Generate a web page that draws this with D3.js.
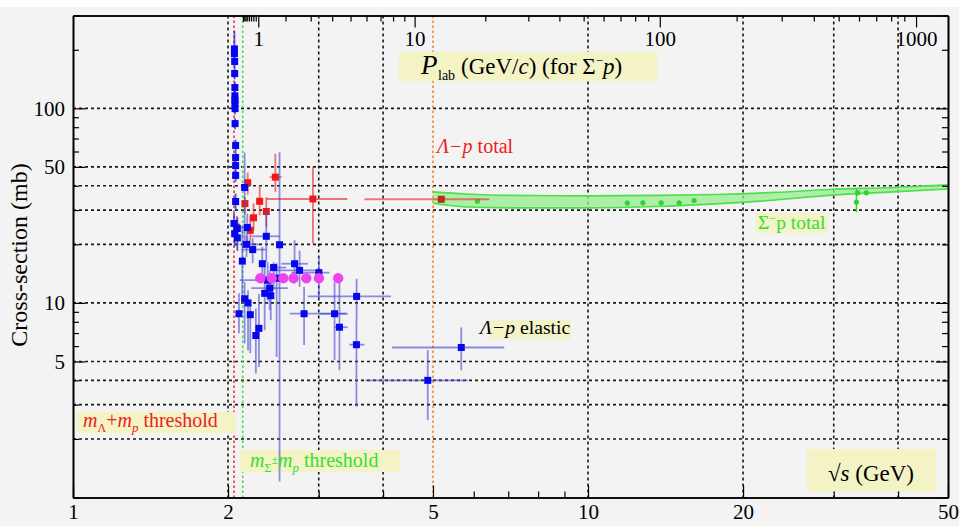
<!DOCTYPE html>
<html><head><meta charset="utf-8">
<script src="https://cdn.jsdelivr.net/npm/d3@7"></script>
<style>body{margin:0;background:#fff;} svg{display:block;} svg text{font-family:'Liberation Serif','Times New Roman',Tinos,'DejaVu Serif',serif;}</style>
</head><body><svg id="c" width="959" height="526" font-family="Liberation Serif, serif"></svg>
<script>
// ---------- data ----------
const bottomTickLabels = [1, 2, 5, 10, 20, 50];
const leftTickLabels = [5, 10, 50, 100];
const plabTickLabels = [1, 10, 100, 1000];
const plabMinorTicks = [0.1,0.2,0.3,0.4,0.5,0.6,0.7,0.8,0.9,2,3,4,5,6,7,8,9,20,30,40,50,60,70,80,90,200,300,400,500,600,700,800,900];
const gridXValues = [2, 3, 4, 10, 20, 30, 40];
const gridYValues = [2, 3, 4, 5, 10, 20, 30, 40, 50, 100];
const massLambda = 1.115683, massSigmaMinus = 1.197449, massProton = 0.938272;
const lambdaPTotalEdge = 5;

// Λp elastic near threshold: [sqrt s, sigma, sigmaLo, sigmaHi]
const elasticNearThreshold = [
  [2.058,202,188,250],[2.058,191,178,205],[2.060,174,162,187],[2.060,151,141,162],
  [2.062,128,119,137],[2.062,116,108,124],[2.063,110,103,118],[2.063,106,99,113],
  [2.064,99.7,93,107],[2.064,83.5,78,89],[2.069,64.4,60,69],[2.069,55.9,52,60],
  [2.069,50.8,47,54],[2.069,45.2,42,48],[2.069,33.2,30,36.5],[2.054,25.6,22,29],
  [2.085,24.1,21,27.5],[2.060,22.7,19.5,26],[2.085,21.6,18.5,25]
];
// Λp elastic: [sqrt s, sigma, sqrtsLo, sqrtsHi, sigmaLo, sigmaHi]
const elasticPoints = [
  [2.154,39.2,2.154,2.154,21.0,59.3],[2.180,24.4,2.123,2.220,19.4,28.8],
  [2.172,20.0,2.107,2.304,17.2,22.2],[2.373,22.0,2.220,2.518,16.2,29.9],
  [2.518,19.9,2.518,2.518,1.21,59.5],[2.233,18.8,2.123,2.366,16.0,21.5],
  [2.132,16.4,2.132,2.132,10.7,25.0],[2.331,15.9,2.331,2.331,12.6,19.4],
  [2.452,15.2,2.409,2.595,11.6,16.2],[2.693,15.9,2.538,2.858,12.6,21.0],
  [2.754,14.7,2.427,3.011,12.1,18.6],[3.002,14.3,2.654,3.148,10.5,17.2],
  [2.387,13.1,2.107,2.595,10.3,16.2],[2.485,13.4,2.485,2.485,5.28,16.0],
  [2.409,11.9,2.220,2.614,9.2,14.7],[2.356,11.2,2.356,2.356,7.24,15.6],
  [2.421,10.9,2.421,2.421,8.15,13.9],[2.154,10.5,2.154,2.154,6.19,12.8],
  [2.187,10.0,2.187,2.187,5.72,11.6],[2.100,8.8,2.100,2.100,6.99,11.2],
  [2.209,8.7,2.209,2.209,5.52,9.73],[2.296,7.4,2.296,2.296,4.69,11.1],
  [2.265,6.8,2.265,2.265,4.34,9.36],[2.810,8.8,2.634,3.392,6.07,12.1],
  [3.220,8.8,3.011,3.416,5.08,12.8],[3.291,7.5,3.220,3.416,4.51,13.6],
  [3.554,10.8,2.858,4.146,8.15,13.3],[3.551,6.1,3.442,3.681,2.93,8.15],
  [4.885,4.0,3.697,5.84,2.5,5.72],[5.674,5.9,4.165,6.875,4.51,7.48]
];
// Λp total: [sqrt s, sigma, sqrtsLo, sqrtsHi, sigmaLo, sigmaHi]
const lambdaPTotal = [
  [2.184,41.5,2.184,2.184,36.0,46.8],[2.157,32.4,2.157,2.157,28.7,35.0],
  [2.304,33.3,2.280,2.330,28.2,40.2],[2.242,27.4,2.242,2.242,23.6,32.5],
  [2.373,29.5,2.373,2.373,24.5,35.0],[2.471,44.3,2.409,2.541,37.1,58.4],
  [2.209,23.6,2.209,2.209,19.8,28.2],[2.923,34.2,2.377,3.41,20.2,49.9],
  [2.079,24.5,2.079,2.079,21.5,28.0]
];
const lambdaPTotalHigh = [[5.19,34.1,3.68,6.43,33.6,34.6]];
// magenta series
const magentaSqrtS = [2.311,2.431,2.561,2.681,2.838,3.002,3.273];
const magentaSigma = [13.4,13.4,13.4,13.4,13.4,13.4,13.4];
const magentaErr = [0,0,0,0,0.5,0.6,0.6];
// Σ⁻p total band and points
const bandSqrtS = [5,5.8,7,10,13.6,17.7,23.1,29.3,39,50];
const bandUpper = [37.2,36.3,35.7,35.5,35.7,36.1,37.0,38.3,39.2,40.4];
const bandLower = [32.5,31.1,30.8,30.8,31.3,32.3,33.8,35.7,37.2,38.5];
const sigmaPPoints = [[6.10,33.3,33.3,33.3],[11.92,32.6,32.6,32.6],[12.78,32.7,32.7,32.7],[13.87,32.7,32.7,32.7],[15.03,32.7,32.7,32.7],[16.07,33.6,33.6,33.6],[33.2,33.0,29.2,38.8],[33.4,36.8,36.8,36.8],[34.7,36.8,36.8,36.8]];

// ---------- layout ----------
const FONT = "'Liberation Serif','Times New Roman',Tinos,'DejaVu Serif',serif";
const W = 959, H = 526;
const L = 73, R = 948, T = 15.5, B = 497.5;
const svg = d3.select("#c");
const x = d3.scaleLog().domain([1, 50]).range([L, R]);
const y = d3.scaleLog().domain([1, 300]).range([B, T]);
const sqrtSFromPlab = p => { const E = Math.sqrt(p*p + massSigmaMinus**2); return Math.sqrt(massSigmaMinus**2 + massProton**2 + 2*massProton*E); };

svg.append("rect").attr("x",0).attr("y",0).attr("width",W).attr("height",H).attr("fill","#ffffff");
svg.append("rect").attr("x",0).attr("y",7).attr("width",W).attr("height",H-7).attr("fill","#f3f3f3");

// grid
const grid = svg.append("g").attr("stroke","#1a1a1a").attr("stroke-width",1.6).attr("stroke-dasharray","3,3");
grid.selectAll(".gx").data(gridXValues).join("line").attr("x1",d=>x(d)).attr("x2",d=>x(d)).attr("y1",T).attr("y2",B);
grid.selectAll(".gy").data(gridYValues).join("line").attr("x1",L).attr("x2",R).attr("y1",d=>y(d)).attr("y2",d=>y(d));

// special vertical lines
const vlines = [
  {v: massLambda + massProton, c: "#e03a3a"},
  {v: massSigmaMinus + massProton, c: "#44e044"},
  {v: lambdaPTotalEdge, c: "#ee8a30"}
];
svg.selectAll(".vl").data(vlines).join("line").attr("x1",d=>x(d.v)).attr("x2",d=>x(d.v)).attr("y1",T).attr("y2",B)
  .attr("stroke",d=>d.c).attr("stroke-width",1.6).attr("stroke-dasharray","2.5,2.5");

// label boxes
const boxFill = "#f3f3c6";
const boxes = [
  [399,52,258,29],[756,213,72,20],[489,320,82,19],[77,412,159,21],[240,450,160,22],[807,449,129,43]
];
svg.selectAll(".bx").data(boxes).join("rect").attr("x",d=>d[0]).attr("y",d=>d[1]).attr("width",d=>d[2]).attr("height",d=>d[3]).attr("fill",boxFill);

// Σ⁻p band
const bandData = bandSqrtS.map((s,i)=>({s, u: bandUpper[i], l: bandLower[i]}));
svg.append("path").datum(bandData)
  .attr("d", d3.area().x(d=>x(d.s)).y0(d=>y(d.l)).y1(d=>y(d.u)).curve(d3.curveMonotoneX))
  .attr("fill","rgb(150,238,140)").attr("fill-opacity",0.75);
["u","l"].forEach(k=>{
  svg.append("path").datum(bandData).attr("d", d3.line().x(d=>x(d.s)).y(d=>y(d[k])).curve(d3.curveMonotoneX))
    .attr("fill","none").attr("stroke","#4ede4e").attr("stroke-width",1.6);
});
svg.selectAll(".gpe").data(sigmaPPoints.filter(d=>d[2]!==d[3])).join("line")
  .attr("x1",d=>x(d[0])).attr("x2",d=>x(d[0])).attr("y1",d=>y(d[2])).attr("y2",d=>y(d[3]))
  .attr("stroke","#33d633").attr("stroke-width",1.5);
svg.selectAll(".gp").data(sigmaPPoints).join("circle").attr("cx",d=>x(d[0])).attr("cy",d=>y(d[1])).attr("r",2.6).attr("fill","#2ed52e");

// error bar helper
function errBars(data, color, opacity){
  const g = svg.append("g").attr("stroke",color).attr("stroke-opacity",opacity).attr("stroke-width",1.8);
  g.selectAll(".h").data(data.filter(d=>d[2]!==d[3])).join("line")
    .attr("x1",d=>x(d[2])).attr("x2",d=>x(d[3])).attr("y1",d=>y(d[1])).attr("y2",d=>y(d[1]));
  g.selectAll(".v").data(data.filter(d=>d[4]!==d[5])).join("line")
    .attr("x1",d=>x(d[0])).attr("x2",d=>x(d[0])).attr("y1",d=>y(d[4])).attr("y2",d=>y(d[5]));
}
function squares(data, color, s){
  svg.append("g").selectAll("rect").data(data).join("rect")
    .attr("x",d=>x(d[0])-s/2).attr("y",d=>y(d[1])-s/2).attr("width",s).attr("height",s).attr("fill",color);
}

// Λp total (red)
errBars(lambdaPTotal, "rgb(225,50,50)", 0.65);
errBars(lambdaPTotalHigh, "rgb(225,60,60)", 0.65);
squares(lambdaPTotal, "#ee1a1a", 7);
squares(lambdaPTotalHigh, "#b5300c", 7);

// Λp elastic (blue)
const nearAsFull = elasticNearThreshold.map(d=>[d[0],d[1],d[0],d[0],d[2],d[3]]);
errBars(elasticPoints, "rgb(70,70,215)", 0.6);
errBars(nearAsFull, "rgb(50,50,200)", 0.8);
squares(nearAsFull, "#0505ee", 7);
squares(elasticPoints, "#0505ee", 7);

// magenta
const magData = magentaSqrtS.map((s,i)=>[s, magentaSigma[i], magentaErr[i]]);
svg.selectAll(".me").data(magData.filter(d=>d[2]>0)).join("line")
  .attr("x1",d=>x(d[0])).attr("x2",d=>x(d[0])).attr("y1",d=>y(d[1]-d[2])).attr("y2",d=>y(d[1]+d[2]))
  .attr("stroke","#e040e0").attr("stroke-width",2);
svg.selectAll(".mc").data(magData).join("circle").attr("cx",d=>x(d[0])).attr("cy",d=>y(d[1])).attr("r",5.2).attr("fill","#ee44ee");

// ---------- axes ----------
function decadeTicks(lo, hi){ const out=[]; for(let e=0;e<=2;e++) for(let m=1;m<=9;m++){ const v=m*10**e; if(v>=lo&&v<=hi) out.push(v);} return out; }
const bottomMinor = decadeTicks(1,50).filter(v=>!bottomTickLabels.includes(v));
const leftMinor = decadeTicks(1,300).filter(v=>!leftTickLabels.includes(v));
function styleAxis(g){
  g.attr("font-family", FONT);
  g.select(".domain").attr("stroke","#000").attr("stroke-width",1.6);
  g.selectAll(".tick line").attr("stroke","#000").attr("stroke-width",1.2);
  g.selectAll("text").attr("font-size",21).attr("fill","#000").attr("font-family",FONT);
}

svg.append("g").attr("transform",`translate(0,${B})`).call(d3.axisBottom(x).tickValues(bottomMinor).tickSize(-6).tickSizeOuter(0).tickFormat("")).call(styleAxis);
svg.append("g").attr("transform",`translate(0,${B})`).call(d3.axisBottom(x).tickValues(bottomTickLabels).tickSize(-12).tickSizeOuter(0).tickPadding(7).tickFormat(d3.format("d"))).call(styleAxis);

svg.append("g").attr("transform",`translate(${L},0)`).call(d3.axisLeft(y).tickValues(leftMinor).tickSize(-6).tickSizeOuter(0).tickFormat("")).call(styleAxis);
svg.append("g").attr("transform",`translate(${L},0)`).call(d3.axisLeft(y).tickValues(leftTickLabels).tickSize(-12).tickSizeOuter(0).tickPadding(8).tickFormat(d3.format("d"))).call(styleAxis);

svg.append("g").attr("transform",`translate(${R},0)`).call(d3.axisRight(y).tickValues(leftMinor).tickSize(-6).tickSizeOuter(0).tickFormat("")).call(styleAxis);
svg.append("g").attr("transform",`translate(${R},0)`).call(d3.axisRight(y).tickValues(leftTickLabels).tickSize(-12).tickSizeOuter(0).tickFormat("")).call(styleAxis);

// top axis: P_lab for Σ⁻p
svg.append("g").attr("transform",`translate(0,${T})`).call(d3.axisBottom(x).tickValues(plabMinorTicks.map(sqrtSFromPlab)).tickSize(6).tickSizeOuter(0).tickFormat("")).call(styleAxis);
svg.append("g").attr("transform",`translate(0,${T})`).call(d3.axisBottom(x).tickValues(plabTickLabels.map(sqrtSFromPlab)).tickSize(12).tickSizeOuter(0).tickPadding(4).tickFormat((d,i)=>plabTickLabels[i])).call(styleAxis);

// ---------- text ----------
const txt = (xx, yy, size, fill) => svg.append("text").attr("x",xx).attr("y",yy).attr("font-size",size).attr("fill",fill||"#000").attr("font-family",FONT);

svg.append("text").attr("transform","translate(27,255) rotate(-90)").attr("text-anchor","middle").attr("font-size",24).attr("font-family",FONT).text("Cross-section (mb)");

// P_lab label
txt(421,74,27).attr("font-style","italic").text("P");
txt(438,80,14).text("lab");
const pl = txt(461,74,23);
pl.append("tspan").text("(GeV/");
pl.append("tspan").attr("font-style","italic").text("c");
pl.append("tspan").text(") (for Σ");
pl.append("tspan").attr("font-size",13).attr("dy",-9).text("−");
pl.append("tspan").attr("font-style","italic").attr("dy",9).text("p");
pl.append("tspan").text(")");

// Λ−p total
const lt = txt(437,153,20,"#ee2020");
lt.append("tspan").attr("font-style","italic").text("Λ−p");
lt.append("tspan").text(" total");

// Σ⁻p total
const st = txt(758,229,19.5,"#33dd33");
st.append("tspan").text("Σ");
st.append("tspan").attr("font-size",12).attr("dy",-7).text("−");
st.append("tspan").attr("dy",7).text("p total");

// Λ−p elastic
const le = txt(480,334,19.7,"#000");
le.append("tspan").attr("font-style","italic").text("Λ−p");
le.append("tspan").text(" elastic");

// m_Λ+m_p threshold
const t1 = txt(83,427,20,"#ee2020");
t1.append("tspan").attr("font-style","italic").text("m");
t1.append("tspan").attr("font-size",12).attr("dy",5).text("Λ");
t1.append("tspan").attr("dy",-5).text("+");
t1.append("tspan").attr("font-style","italic").text("m");
t1.append("tspan").attr("font-size",13).attr("font-style","italic").attr("dy",5).text("p");
t1.append("tspan").attr("dy",-5).text(" threshold");

// m_Σ±m_p threshold
const t2 = txt(250,467,20,"#33e033");
t2.append("tspan").attr("font-style","italic").text("m");
t2.append("tspan").attr("font-size",12).attr("dy",5).text("Σ");
t2.append("tspan").attr("font-size",12).attr("dy",-8).text("±");
t2.append("tspan").attr("font-style","italic").attr("dy",3).text("m");
t2.append("tspan").attr("font-size",13).attr("font-style","italic").attr("dy",5).text("p");
t2.append("tspan").attr("dy",-5).text(" threshold");

// √s (GeV)
const sq = txt(871,481,23).attr("text-anchor","middle");
sq.append("tspan").text("√");
sq.append("tspan").attr("font-style","italic").text("s");
sq.append("tspan").text(" (GeV)");
</script></body></html>
